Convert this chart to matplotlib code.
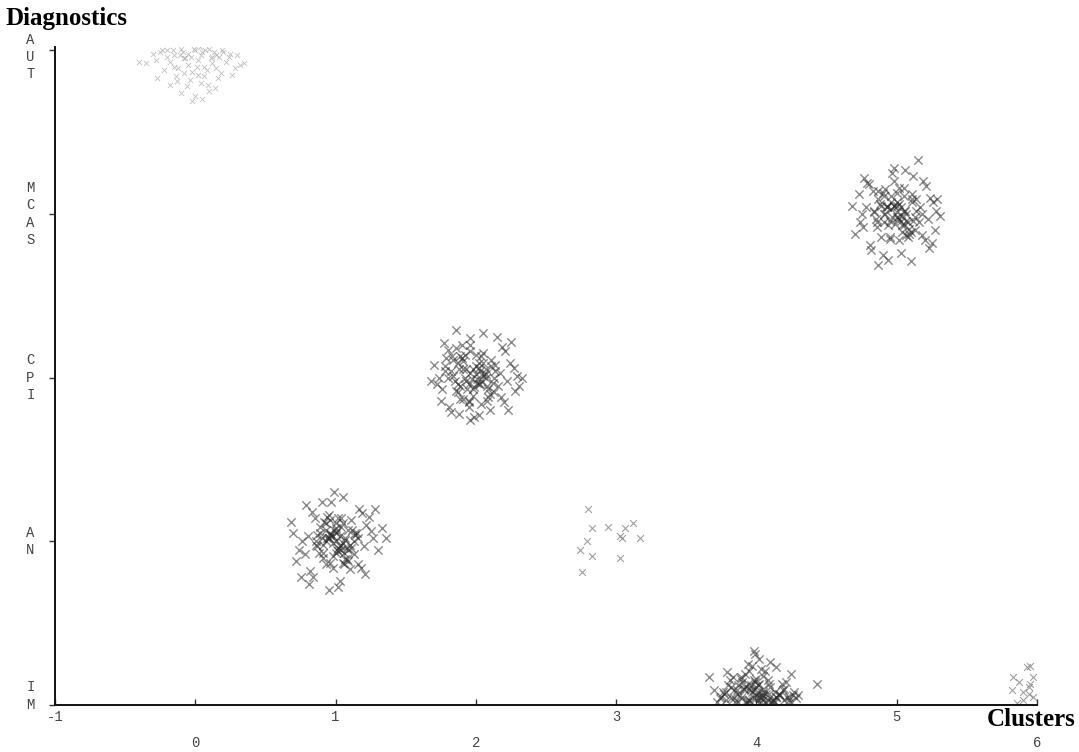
import matplotlib
matplotlib.use("Agg")
import matplotlib.pyplot as plt

# category axis
diag_labels = ['I\nM', 'A\nN', 'C\nP\nI', 'M\nC\nA\nS', 'A\nU\nT']
diag_pos = [0, 1, 2, 3, 4]
cluster_ticks = [-1, 0, 1, 2, 3, 4, 5, 6]

# cluster 0 -> AUT (faint)
c0_x = [-0.30, -0.25, -0.20, -0.15, -0.10, -0.05, 0.00, 0.05, 0.10, 0.15, 0.20, 0.25, 0.30,
        -0.35, -0.28, -0.18, -0.08, 0.02, 0.12, 0.22, 0.32, -0.22, -0.12, -0.02, 0.08, 0.18, 0.28,
        -0.27, -0.14, -0.04, 0.06, 0.16, 0.26, -0.18, -0.06, 0.04, 0.14, -0.10, 0.00, 0.10,
        -0.40, 0.35, -0.02, 0.05, -0.13, 0.09, 0.03, -0.07, 0.01, 0.12,
        -0.24, -0.16, -0.09, -0.01, 0.07, 0.13, 0.19, 0.24, -0.20, -0.11, -0.03, 0.04, 0.11, 0.17,
        -0.15, -0.05, 0.06, 0.15, -0.08, 0.02]
c0_y = [3.98, 3.99, 4.00, 3.97, 4.01, 3.98, 4.00, 3.99, 4.01, 3.97, 3.99, 3.98, 3.97,
        3.92, 3.94, 3.93, 3.95, 3.94, 3.92, 3.93, 3.91, 3.88, 3.89, 3.87, 3.88, 3.86, 3.89,
        3.83, 3.84, 3.82, 3.84, 3.83, 3.85, 3.79, 3.78, 3.80, 3.77, 3.74, 3.72, 3.75,
        3.93, 3.92, 3.69, 3.70, 3.81, 3.79, 4.02, 3.95, 3.90, 3.96,
        4.00, 4.00, 3.99, 4.01, 4.00, 3.99, 4.00, 3.96, 3.96, 3.97, 3.96, 3.97, 3.95, 3.96,
        3.90, 3.91, 3.90, 3.89, 3.86, 3.85]

# cluster 1 -> AN
c1_x = [1.00, 0.98, 1.03, 0.96, 1.05, 1.01, 0.94, 1.07, 0.99, 1.02, 0.97, 1.04, 0.93, 1.08, 1.00, 0.95, 1.06, 1.01, 0.98, 1.03,
        0.90, 1.10, 0.88, 1.12, 0.92, 1.09, 0.86, 1.14, 0.91, 1.11, 0.89, 1.13, 0.94, 1.06, 0.87, 1.15, 0.93, 1.08, 0.96, 1.04,
        0.80, 1.20, 0.78, 1.22, 0.83, 1.18, 0.76, 1.25, 0.82, 1.17, 0.85, 1.16, 0.79, 1.21, 0.74, 1.27, 0.84, 1.19, 0.97, 1.03,
        0.70, 1.30, 0.72, 1.33, 0.68, 1.28, 0.95, 1.05, 1.10, 0.90, 0.75, 1.24, 0.81, 1.36, 0.99, 1.02,
        0.95, 1.04, 1.09, 0.91, 1.00, 1.05, 0.96, 1.11, 0.89, 1.02, 0.98, 1.07, 0.93, 1.14, 0.86, 1.04, 1.00, 0.95, 1.09, 0.87,
        1.13, 0.98, 1.05, 0.93, 1.02, 0.91, 1.16, 0.96, 1.07, 1.00]
c1_y = [1.00, 1.03, 0.97, 1.05, 0.99, 0.95, 1.02, 1.01, 1.07, 0.94, 1.04, 0.98, 1.00, 0.96, 1.08, 1.02, 0.93, 1.06, 0.99, 1.03,
        1.02, 0.98, 0.93, 1.07, 1.12, 0.88, 1.00, 1.04, 0.90, 1.13, 1.09, 0.92, 1.15, 0.86, 0.97, 1.05, 1.11, 0.89, 0.87, 1.14,
        1.03, 0.97, 0.92, 1.10, 1.18, 0.84, 1.00, 1.06, 0.82, 1.20, 1.14, 0.86, 1.22, 0.80, 0.95, 1.02, 0.78, 1.17, 1.24, 0.76,
        1.05, 0.95, 0.88, 1.08, 1.12, 1.20, 0.70, 1.27, 0.83, 1.24, 0.78, 1.15, 0.74, 1.02, 1.30, 0.72,
        1.02, 0.95, 1.07, 0.98, 1.11, 0.87, 1.04, 0.96, 1.05, 1.14, 0.91, 1.02, 0.86, 1.05, 0.98, 1.09, 0.93, 1.16, 0.95, 1.04,
        1.00, 0.84, 1.11, 1.07, 0.96, 0.93, 1.02, 1.13, 0.89, 1.05]

# cluster 2 -> CPI
c2_x = [2.00, 1.97, 2.03, 1.95, 2.05, 2.01, 1.93, 2.07, 1.99, 2.02, 1.96, 2.04, 1.92, 2.08, 2.00, 1.94, 2.06, 2.01, 1.98, 2.03,
        1.88, 2.12, 1.86, 2.14, 1.90, 2.10, 1.84, 2.16, 1.89, 2.11, 1.87, 2.13, 1.92, 2.08, 1.85, 2.17, 1.91, 2.09, 1.95, 2.05,
        1.78, 2.22, 1.76, 2.24, 1.80, 2.20, 1.74, 2.27, 1.81, 2.19, 1.83, 2.18, 1.77, 2.23, 1.72, 2.29, 1.82, 2.21, 1.96, 2.02,
        1.68, 2.33, 1.70, 2.31, 1.86, 2.25, 1.96, 2.10, 1.75, 2.15, 1.88, 2.05, 1.79, 2.28, 1.99, 1.90,
        1.91, 2.02, 1.84, 1.96, 2.07, 1.87, 2.11, 1.95, 1.80, 2.04, 1.89, 2.14, 1.98, 1.86, 2.05, 1.93, 2.00, 1.82, 2.09, 1.91,
        1.96, 2.13, 1.87, 2.02, 1.95, 1.78, 2.07, 1.98, 1.89, 2.04]
c2_y = [2.02, 1.99, 2.04, 1.96, 2.01, 1.97, 2.05, 2.00, 1.94, 2.06, 2.03, 1.98, 2.00, 1.95, 2.07, 1.93, 2.02, 1.99, 2.05, 1.96,
        2.05, 1.97, 1.92, 2.08, 2.12, 1.90, 2.01, 1.95, 1.87, 2.11, 2.09, 1.91, 2.14, 1.86, 1.98, 2.03, 2.10, 1.88, 1.85, 2.15,
        2.04, 1.98, 1.93, 2.09, 2.17, 1.85, 2.00, 2.06, 1.82, 2.19, 2.13, 1.88, 2.21, 1.80, 1.96, 2.01, 1.79, 2.16, 2.24, 1.77,
        1.98, 2.00, 2.08, 1.95, 2.29, 2.22, 1.74, 1.80, 1.86, 2.25, 1.78, 2.27, 2.12, 1.92, 1.76, 2.20,
        2.05, 1.96, 2.11, 2.16, 2.02, 1.91, 2.07, 1.86, 2.00, 2.13, 1.95, 2.04, 1.89, 2.18, 2.09, 1.98, 2.14, 2.04, 1.93, 1.87,
        2.20, 2.00, 1.96, 2.09, 1.82, 2.07, 2.05, 1.93, 2.13, 1.84]

# cluster 3 -> AN (sparse)
c3_x = [2.80, 2.83, 2.94, 3.06, 3.12, 3.03, 3.04, 3.17, 2.79, 2.74, 2.83, 3.03, 2.76]
c3_y = [1.20, 1.08, 1.09, 1.08, 1.11, 1.03, 1.02, 1.02, 1.00, 0.95, 0.91, 0.90, 0.81]

# cluster 4 -> IM
c4_x = [4.00, 3.97, 4.03, 3.95, 4.05, 4.01, 3.93, 4.07, 3.99, 4.02, 3.96, 4.04, 3.92, 4.08, 4.00, 3.94, 4.06, 4.01, 3.98, 4.03,
        3.88, 4.12, 3.86, 4.14, 3.90, 4.10, 3.84, 4.16, 3.89, 4.11, 3.87, 4.13, 3.92, 4.08, 3.85, 4.17, 3.91, 4.09, 3.95, 4.05,
        3.78, 4.22, 3.76, 4.24, 3.80, 4.20, 3.74, 4.26, 3.81, 4.19, 3.83, 4.18, 3.77, 4.23, 3.72, 4.28, 3.82, 4.21, 3.97, 4.03,
        3.66, 4.30, 3.70, 4.43, 3.99, 4.02, 4.10, 3.94, 3.79, 4.25, 3.89, 4.14, 3.75, 4.27, 3.98, 4.06,
        3.93, 4.02, 4.11, 3.86, 3.98, 4.07, 3.89, 4.16, 4.00, 3.95, 4.05, 3.82, 4.13, 3.96, 4.04, 3.91, 4.20, 3.87, 4.09, 3.98,
        3.78, 4.02, 4.14, 3.93, 4.05, 3.84, 4.00, 4.11, 3.95, 4.23]
c4_y = [0.04, 0.08, 0.02, 0.10, 0.06, 0.12, 0.03, 0.07, 0.14, 0.01, 0.09, 0.05, 0.11, 0.03, 0.06, 0.13, 0.02, 0.08, 0.15, 0.04,
        0.06, 0.03, 0.09, 0.05, 0.14, 0.11, 0.04, 0.07, 0.17, 0.02, 0.12, 0.08, 0.19, 0.15, 0.02, 0.06, 0.10, 0.13, 0.21, 0.18,
        0.03, 0.05, 0.08, 0.02, 0.12, 0.10, 0.04, 0.06, 0.15, 0.09, 0.17, 0.13, 0.07, 0.03, 0.02, 0.04, 0.11, 0.14, 0.24, 0.22,
        0.17, 0.06, 0.09, 0.13, 0.31, 0.28, 0.26, 0.25, 0.20, 0.19, 0.16, 0.23, 0.05, 0.08, 0.33, 0.21,
        0.02, 0.05, 0.03, 0.07, 0.09, 0.01, 0.04, 0.06, 0.11, 0.03, 0.08, 0.04, 0.02, 0.12, 0.06, 0.10, 0.03, 0.02, 0.07, 0.04,
        0.08, 0.13, 0.05, 0.01, 0.10, 0.09, 0.16, 0.01, 0.03, 0.05]

# cluster 5 -> MCAS
c5_x = [5.00, 4.97, 5.03, 4.95, 5.05, 5.01, 4.93, 5.07, 4.99, 5.02, 4.96, 5.04, 4.92, 5.08, 5.00, 4.94, 5.06, 5.01, 4.98, 5.03,
        4.88, 5.12, 4.86, 5.14, 4.90, 5.10, 4.84, 5.16, 4.89, 5.11, 4.87, 5.13, 4.92, 5.08, 4.85, 5.17, 4.91, 5.09, 4.95, 5.05,
        4.78, 5.22, 4.76, 5.24, 4.80, 5.20, 4.75, 5.26, 4.81, 5.19, 4.83, 5.18, 4.77, 5.23, 4.74, 5.28, 4.82, 5.21, 4.97, 5.03,
        4.68, 5.31, 4.70, 5.29, 4.87, 5.15, 5.06, 4.94, 4.79, 5.25, 4.90, 5.12, 4.73, 5.27, 4.98, 5.10,
        4.93, 5.04, 5.11, 4.87, 5.00, 5.07, 4.96, 5.14, 4.91, 5.02, 4.98, 5.09, 4.84, 5.05, 4.95, 5.13, 5.00, 4.89, 5.04, 5.18,
        4.86, 4.98, 5.07, 4.93, 5.02, 5.11, 4.96, 5.05, 4.91, 5.00]
c5_y = [3.01, 2.98, 3.04, 2.96, 3.02, 2.97, 3.05, 3.00, 2.94, 3.06, 3.03, 2.99, 3.00, 2.95, 3.07, 2.93, 3.02, 2.98, 3.05, 2.96,
        3.06, 2.96, 2.92, 3.09, 3.13, 2.89, 3.01, 2.95, 2.86, 3.12, 3.09, 2.90, 3.15, 2.86, 2.97, 3.04, 3.11, 2.88, 2.85, 3.16,
        3.04, 2.97, 2.92, 3.10, 3.18, 2.84, 3.00, 3.07, 2.81, 3.20, 3.14, 2.87, 3.22, 2.79, 2.95, 3.02, 2.78, 3.17, 3.25, 2.76,
        3.05, 2.99, 2.88, 3.09, 2.69, 3.33, 3.27, 2.72, 3.19, 2.82, 2.75, 3.23, 3.12, 2.90, 3.28, 2.71,
        3.04, 2.93, 3.09, 3.14, 2.98, 2.87, 3.07, 3.02, 2.95, 3.16, 3.05, 2.91, 3.02, 3.11, 2.86, 2.98, 3.13, 3.05, 2.89, 3.00,
        2.95, 3.20, 2.96, 3.04, 2.84, 3.07, 3.11, 2.93, 3.00, 3.05]

# cluster 6 -> IM (sparse, at the right edge)
c6_x = [5.95, 5.93, 5.83, 5.87, 5.94, 5.94, 5.97, 5.82, 5.90, 5.97, 5.90, 5.86, 5.95]
c6_y = [0.24, 0.23, 0.17, 0.14, 0.11, 0.07, 0.05, 0.09, 0.08, 0.17, 0.03, 0.01, 0.13]

fig = plt.figure(figsize=(10.79, 7.52), dpi=100)
ax = fig.add_axes([0.051, 0.0625, 0.910, 0.875])

dark = dict(marker='x', s=36, linewidths=1.0, color='#2a2a2a', alpha=0.55)
light = dict(marker='x', s=24, linewidths=0.8, color='#808080', alpha=0.75)

ax.scatter(c0_x, c0_y, marker='x', s=14, linewidths=0.6, color='#b0b0b0', alpha=0.8)
ax.scatter(c1_x, c1_y, **dark)
ax.scatter(c2_x, c2_y, **dark)
ax.scatter(c3_x, c3_y, **light)
ax.scatter(c4_x, c4_y, **dark)
ax.scatter(c5_x, c5_y, **dark)
ax.scatter(c6_x, c6_y, **light)

ax.set_xlim(-1, 6)
ax.set_ylim(0, 4.02)

for s in ['top', 'right']:
    ax.spines[s].set_visible(False)
for s in ['left', 'bottom']:
    ax.spines[s].set_linewidth(1.4)
    ax.spines[s].set_color('#111111')

tick_font = dict(family='Liberation Mono', size=10, color='#444444')

# x ticks: inside, labels in two staggered rows
ax.set_xticks(cluster_ticks)
ax.set_xticklabels([])
ax.tick_params(axis='x', direction='in', length=4, width=1, color='#333333')
for i, t in enumerate(cluster_ticks):
    row_y = -0.018 if i % 2 == 0 else -0.058
    ax.text(t, row_y, str(t), transform=ax.get_xaxis_transform(),
            ha='center', va='center', **tick_font)

# y ticks: outside, stacked letters
ax.set_yticks(diag_pos)
ax.set_yticklabels([])
ax.tick_params(axis='y', direction='out', length=4, width=1, color='#333333')
for p, lab in zip(diag_pos, diag_labels):
    nudge = 0.055 if p == 0 else (-0.04 if p == 4 else 0)
    ax.text(-0.025, p + nudge, lab, transform=ax.get_yaxis_transform(),
            ha='center', va='center', linespacing=1.3, **tick_font)

fig.text(0.005, 0.975, 'Diagnostics', family='Liberation Serif', weight='bold',
         size=18, ha='left', va='center')
fig.text(0.997, 0.043, 'Clusters', family='Liberation Serif', weight='bold',
         size=18, ha='right', va='center')

fig.savefig('out.png', dpi=100)
